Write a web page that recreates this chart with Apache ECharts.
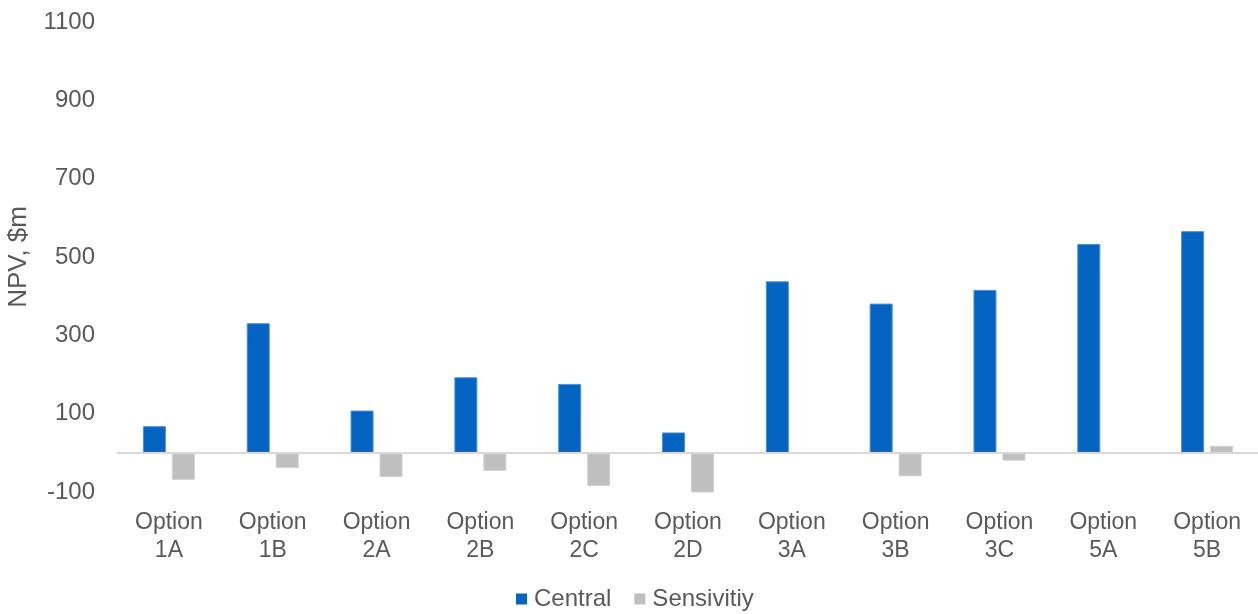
<!DOCTYPE html>
<html>
<head>
<meta charset="utf-8">
<script src="https://cdn.jsdelivr.net/npm/echarts@6/dist/echarts.min.js"></script>
<style>
  html, body { margin: 0; padding: 0; background: #ffffff; }
  #chart { width: 1258px; height: 614px; }
</style>
</head>
<body>
<div id="chart"></div>
<script>
// NPV by option, $m
const categories = ['Option\n1A', 'Option\n1B', 'Option\n2A', 'Option\n2B', 'Option\n2C', 'Option\n2D',
                    'Option\n3A', 'Option\n3B', 'Option\n3C', 'Option\n5A', 'Option\n5B'];
const centralValues = [68, 331, 108, 193, 176, 52, 438, 381, 416, 533, 566];
const sensitivityValues = [-69, -39, -62, -46, -85, -106, 0, -60, -20, 0, 18];
const yTickLabels = [-100, 100, 300, 500, 700, 900, 1100];

const textColor = '#595959';
const fontFamily = 'Liberation Sans, Arial, sans-serif';
const fontSize = 23;

const chart = echarts.init(document.getElementById('chart'));
chart.setOption({
  animation: false,
  backgroundColor: '#ffffff',
  textStyle: { fontFamily: fontFamily },
  grid: {
    left: 117, width: 1142, top: 22, bottom: 122,
    containLabel: false,
    outerBoundsMode: 'none'
  },
  legend: {
    bottom: -2,
    left: 511,
    itemWidth: 11,
    itemHeight: 11,
    itemGap: 23,
    icon: 'rect',
    itemStyle: { borderWidth: 0 },
    textStyle: { color: textColor, fontSize: 24, fontFamily: fontFamily, padding: [0, 0, 0, 2] },
    data: ['Central', 'Sensivitiy']
  },
  xAxis: {
    type: 'category',
    data: categories,
    axisLine: { show: false, onZero: false },
    axisTick: { show: false },
    axisLabel: {
      color: textColor,
      fontSize: fontSize,
      lineHeight: 28,
      margin: 17,
      interval: 0,
      fontFamily: fontFamily
    }
  },
  yAxis: {
    type: 'value',
    min: -100,
    max: 1100,
    interval: 100,
    name: 'NPV, $m',
    nameLocation: 'middle',
    nameGap: 85,
    nameRotate: 90,
    nameTextStyle: { color: textColor, fontSize: 26, fontFamily: fontFamily },
    axisLine: { show: false },
    axisTick: { show: false },
    splitLine: { show: false },
    axisLabel: {
      color: textColor,
      fontSize: 24,
      margin: 22,
      fontFamily: fontFamily,
      formatter: function (v) {
        return yTickLabels.indexOf(v) >= 0 ? String(v) : '';
      }
    }
  },
  series: [
    {
      name: 'Central',
      type: 'bar',
      data: centralValues,
      barWidth: 23,
      barGap: '26%',
      itemStyle: { color: '#0563C1', borderColor: '#4A90D9', borderWidth: 1 },
      markLine: {
        silent: true,
        symbol: 'none',
        label: { show: false },
        lineStyle: { color: '#D9D9D9', width: 2, type: 'solid' },
        data: [{ yAxis: 0 }]
      },
      z: 3
    },
    {
      name: 'Sensivitiy',
      type: 'bar',
      data: sensitivityValues,
      barWidth: 23,
      itemStyle: { color: '#BFBFBF', borderColor: '#D0D0D0', borderWidth: 1 },
      z: 3
    }
  ]
});
</script>
</body>
</html>
